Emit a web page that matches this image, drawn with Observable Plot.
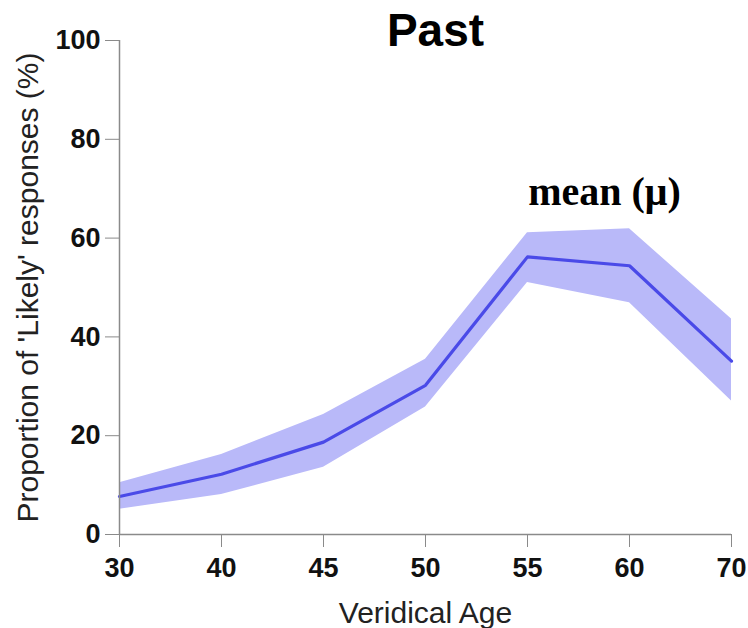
<!DOCTYPE html>
<html>
<head>
<meta charset="utf-8">
<script src="https://cdn.jsdelivr.net/npm/d3@7"></script>
<script src="https://cdn.jsdelivr.net/npm/@observablehq/plot@0.6"></script>
<style>
  html, body { margin: 0; padding: 0; background: #fff; }
  #chart svg { display: block; }
</style>
</head>
<body>
<div id="chart"></div>
<script>
// Data
const ages = ["30", "40", "45", "50", "55", "60", "70"];
const meanValues = [7.7, 12.2, 18.7, 30.2, 56.2, 54.4, 35.1];
const upperValues = [10.5, 16.2, 24.3, 35.5, 61.1, 61.9, 43.6];
const lowerValues = [5.1, 8.1, 13.6, 25.8, 51.0, 46.9, 27.0];
const yTicks = [0, 20, 40, 60, 80, 100];

const title = "Past";
const annotation = "mean (μ)";
const xLabel = "Veridical Age";
const yLabel = "Proportion of 'Likely' responses (%)";

const data = ages.map((a, i) => ({age: a, mean: meanValues[i], lo: lowerValues[i], hi: upperValues[i]}));

const sans = "'Liberation Sans', Arial, sans-serif";
const serif = "'Liberation Serif', 'Times New Roman', serif";

const chart = Plot.plot({
  width: 748,
  height: 628,
  marginLeft: 119,
  marginRight: 17,
  marginTop: 40,
  marginBottom: 94,
  style: {fontFamily: sans, background: "#fff", overflow: "visible"},
  x: {type: "point", domain: ages, padding: 0},
  y: {domain: [0, 100]},
  marks: [
    Plot.areaY(data, {x: "age", y1: "lo", y2: "hi", fill: "#b9b9f9", fillOpacity: 1}),
    Plot.lineY(data, {x: "age", y: "mean", stroke: "#4a4ae8", strokeWidth: 3.2}),
    Plot.ruleX([ages[0]], {y1: 0, y2: 100, stroke: "#8a8a8a", strokeWidth: 1.5}),
    Plot.ruleY([0], {stroke: "#8a8a8a", strokeWidth: 1.5}),
    Plot.axisY({ticks: yTicks, tickSize: 14, tickPadding: 5, stroke: "#8a8a8a", fill: "#111", fontSize: 27, fontWeight: "bold", label: null, tickFormat: d => String(d)}),
    Plot.axisX({tickSize: 13, tickPadding: 10, stroke: "#8a8a8a", fill: "#111", fontSize: 27, fontWeight: "bold", label: null}),
    Plot.text([yLabel], {frameAnchor: "left", textAnchor: "middle", dx: -91, rotate: -90, fontSize: 30, fill: "#222", text: d => d}),
    Plot.text([xLabel], {frameAnchor: "bottom", textAnchor: "middle", dy: 88, fontSize: 30, fill: "#222", text: d => d}),
    Plot.text([title], {frameAnchor: "top-left", textAnchor: "middle", dx: 316, dy: -27, fontSize: 46, fontWeight: "bold", fill: "#000", text: d => d}),
    Plot.text([annotation], {frameAnchor: "top-left", textAnchor: "middle", dx: 485, dy: 136, fontSize: 40, fontWeight: "bold", fontFamily: serif, fill: "#000", text: d => d})
  ]
});
document.getElementById("chart").appendChild(chart);
</script>
</body>
</html>
